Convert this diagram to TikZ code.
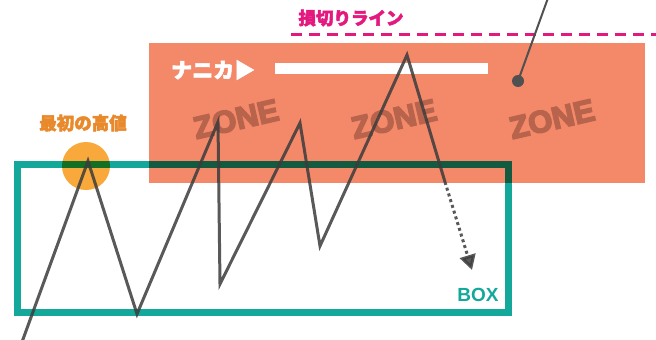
\documentclass[tikz,border=0pt]{standalone}
\usepackage{fontspec}
\setmainfont{Liberation Sans}
\newfontfamily\jp{Noto Sans CJK JP}
\usetikzlibrary{arrows.meta}
\definecolor{zonebg}{HTML}{F4896A}
\definecolor{zonetxt}{HTML}{B8634B}
\definecolor{boxcol}{HTML}{13A89A}
\definecolor{hicol}{HTML}{F9A93B}
\definecolor{hitxt}{HTML}{E8892B}
\definecolor{stopcol}{HTML}{E4197F}
\definecolor{linecol}{HTML}{3C3C3C}
\newcommand{\heavytext}[2]{\special{pdf:literal direct 2 Tr #1 w}#2\special{pdf:literal direct 0 Tr 0.4 w}}
\tikzset{
  zonelabel/.style={font=\fontsize{31}{31}\selectfont\bfseries, text=zonetxt, rotate=13, inner sep=0pt},
  jplabel/.style={font=\jp\fontsize{17.5}{17.5}\selectfont\bfseries, inner sep=0pt},
  zig/.style={draw=linecol, line width=3pt, opacity=0.85, line join=miter},
}
\begin{document}
\begin{tikzpicture}[x=1pt,y=-1pt]
\useasboundingbox (0,0) rectangle (656,340);
% zone
\fill[zonebg] (149,43) rectangle (645,183);
\node[zonelabel] (z1) at (236,119) {\heavytext{1.6}{ZONE}};
\node[zonelabel] (z2) at (394,119) {\heavytext{1.6}{ZONE}};
\node[zonelabel] (z3) at (552,119) {\heavytext{1.6}{ZONE}};
% teal box (multiply over zone)
\begin{scope}[blend mode=multiply]
\draw[boxcol, line width=7pt] (17.5,164.5) rectangle (508.5,312.5);
\fill[hicol] (86,166) circle (24);
\end{scope}
\node[font=\fontsize{19}{19}\selectfont\bfseries, text=boxcol, inner sep=0pt] (box) at (478,295) {BOX};
% labels
\node[jplabel, text=hitxt] (first) at (83,123) {\heavytext{0.5}{最初の高値}};
\node[jplabel, text=stopcol] (stop) at (351,18) {\heavytext{0.5}{損切りライン}};
\draw[stopcol, line width=3pt, dash pattern=on 11pt off 7pt] (291,34) -- (656,34);
\node[font=\jp\fontsize{21}{21}\selectfont\bfseries, text=white, inner sep=0pt, anchor=west] (nanika) at (171,70) {\heavytext{0.5}{ナニカ▶}};
\fill[white] (275,63) rectangle (488,74);
% pointer
\coordinate (ptop) at (548,-2);
\fill[linecol!90] (518,81) circle (6);
\coordinate (pdot) at (518,81);
\draw[linecol!90, line width=2pt] (pdot) -- (ptop);
% zigzag
\coordinate (s) at (22,342);
\coordinate (p1) at (88,161);
\coordinate (p2) at (137,314);
\coordinate (p3) at (218,122);
\coordinate (p4) at (220,284);
\coordinate (p5) at (300,123);
\coordinate (p6) at (320,246);
\coordinate (p7) at (407,55);
\coordinate (p8) at (445,182);
\coordinate (p9) at (472,270);
\draw[zig] (s) -- (p1) -- (p2) -- (p3) -- (p4) -- (p5) -- (p6) -- (p7) -- (p8);
\draw[draw=linecol, opacity=0.85, line width=3pt, dash pattern=on 3pt off 3pt, -{Triangle[length=15pt,width=16pt]}] (p8) -- (p9);
\end{tikzpicture}
\end{document}
